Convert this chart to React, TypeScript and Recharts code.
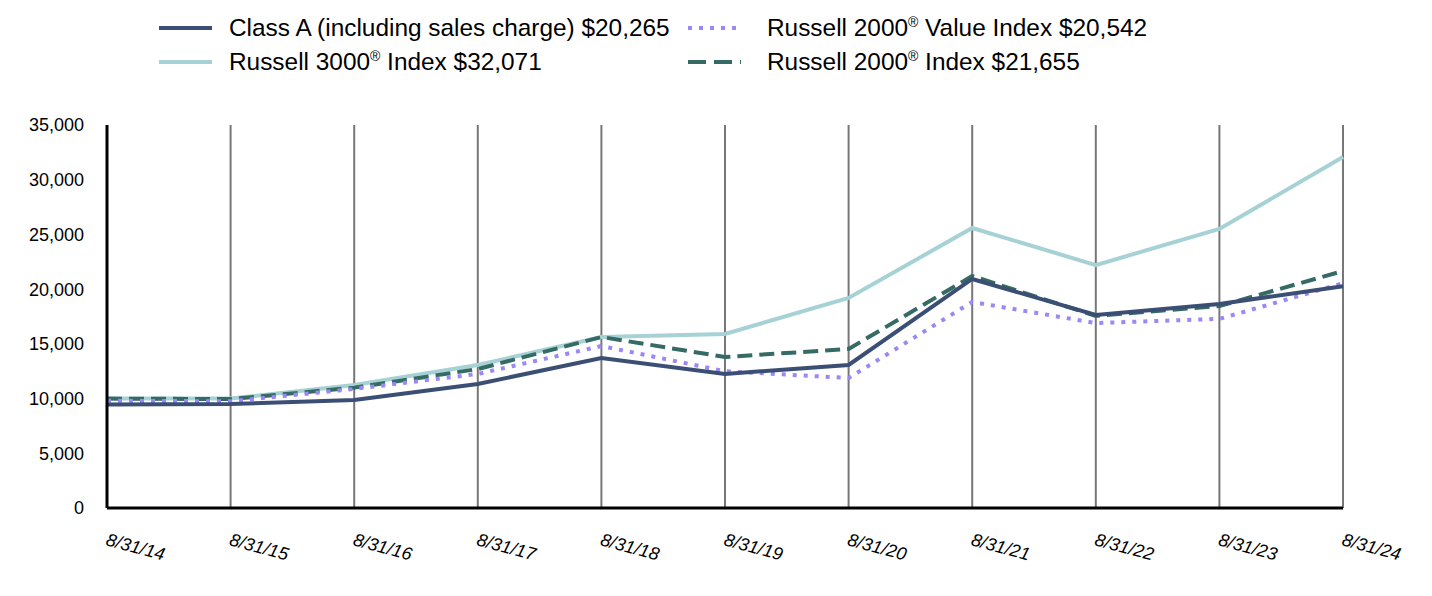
import { CartesianGrid, Line, LineChart, XAxis, YAxis } from "recharts";

const dates = [
  "8/31/14",
  "8/31/15",
  "8/31/16",
  "8/31/17",
  "8/31/18",
  "8/31/19",
  "8/31/20",
  "8/31/21",
  "8/31/22",
  "8/31/23",
  "8/31/24",
];

const classA = [9450, 9500, 9870, 11330, 13710, 12250, 13070, 20930, 17640, 18650, 20265];
const russell3000 = [10000, 10000, 11240, 13070, 15630, 15900, 19200, 25590, 22200, 25500, 32071];
const russell2000Value = [9800, 9750, 10880, 12250, 14800, 12500, 11880, 18830, 16900, 17280, 20542];
const russell2000 = [10000, 9950, 11000, 12700, 15630, 13800, 14530, 21200, 17550, 18460, 21655];

const yTicks = [0, 5000, 10000, 15000, 20000, 25000, 30000, 35000];

const data = dates.map((d, i) => ({
  date: d,
  classA: classA[i],
  r3000: russell3000[i],
  r2000v: russell2000Value[i],
  r2000: russell2000[i],
}));

const FONT = '"Liberation Sans", Arial, sans-serif';

const legendItems = [
  { label: "Class A (including sales charge) $20,265", color: "#3b4f74", dash: undefined, left: 159, top: 28 },
  { label: "Russell 3000", tail: " Index $32,071", color: "#a6d2d6", dash: undefined, left: 159, top: 62 },
  { label: "Russell 2000", tail: " Value Index $20,542", color: "#9b87f5", dash: "4 7", left: 688, top: 28 },
  { label: "Russell 2000", tail: " Index $21,655", color: "#356b64", dash: "18 8", left: 688, top: 62 },
];

const XTick = (props: any) => {
  const { x, y, payload } = props;
  const tx = x - 2;
  const ty = y + 29;
  return (
    <text
      x={tx}
      y={ty}
      transform={`rotate(15, ${tx}, ${ty})`}
      textAnchor="start"
      fontSize={18}
      fontStyle="italic"
      fontFamily={FONT}
      fill="#000"
    >
      {payload.value}
    </text>
  );
};

const App = () => {
  return (
    <div style={{ position: "relative", width: 1432, height: 596, margin: -8, fontFamily: FONT }}>
      {legendItems.map((it, i) => (
        <div
          key={i}
          style={{
            position: "absolute",
            left: it.left,
            top: it.top - 16,
            height: 32,
            display: "flex",
            alignItems: "center",
            fontSize: 24.4,
            color: "#000",
            whiteSpace: "nowrap",
          }}
        >
          <svg width={53} height={8} style={{ marginRight: it.left > 600 ? 26 : 17 }}>
            <line x1={0} y1={4} x2={53} y2={4} stroke={it.color} strokeWidth={4} strokeDasharray={it.dash} />
          </svg>
          <span>
            {it.label}
            {it.tail !== undefined && (
              <>
                <sup style={{ fontSize: 14 }}>®</sup>
                {it.tail}
              </>
            )}
          </span>
        </div>
      ))}
      <LineChart
        width={1432}
        height={596}
        data={data}
        margin={{ top: 125, right: 89, left: 0, bottom: 0 }}
      >
        <CartesianGrid horizontal={false} stroke="#777" strokeWidth={2} />
        <XAxis
          dataKey="date"
          tick={<XTick />}
          tickLine={false}
          axisLine={{ stroke: "#000", strokeWidth: 3 }}
          interval={0}
          height={88}
        />
        <YAxis
          width={107}
          domain={[0, 35000]}
          ticks={yTicks}
          tickFormatter={(v: number) => v.toLocaleString("en-US")}
          tickLine={false}
          tickSize={0}
          tickMargin={23}
          axisLine={{ stroke: "#000", strokeWidth: 3 }}
          tick={{ fontSize: 18, fill: "#000", fontFamily: FONT }}
        />
        <Line dataKey="r3000" stroke="#a6d2d6" strokeWidth={4} dot={false} isAnimationActive={false} />
        <Line dataKey="r2000" stroke="#356b64" strokeWidth={4} strokeDasharray="15 7" dot={false} isAnimationActive={false} />
        <Line dataKey="r2000v" stroke="#9b87f5" strokeWidth={4} strokeDasharray="4 7" dot={false} isAnimationActive={false} />
        <Line dataKey="classA" stroke="#3b4f74" strokeWidth={4} dot={false} isAnimationActive={false} />
      </LineChart>
    </div>
  );
};

export default App;
